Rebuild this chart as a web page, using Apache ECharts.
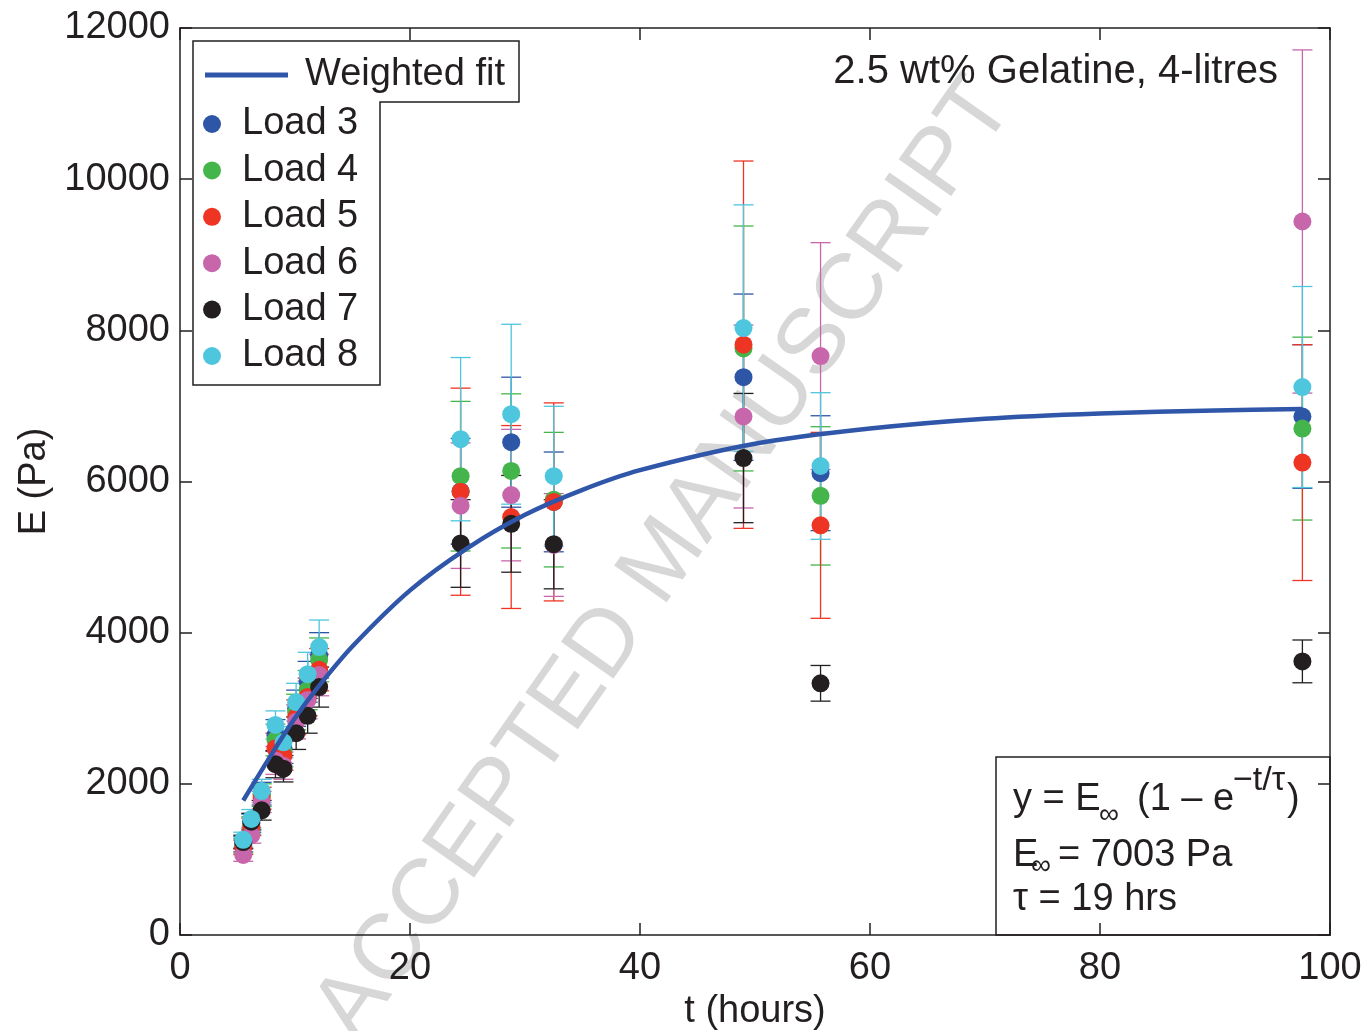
<!DOCTYPE html>
<html><head><meta charset="utf-8">
<script src="https://cdn.jsdelivr.net/npm/echarts@6/dist/echarts.min.js"></script>
<style>html,body{margin:0;padding:0;background:#fff}#c{width:1367px;height:1031px}</style>
</head><body><div id="c"></div>
<script>
// ---- data ----
const times = [5.5, 6.2, 7.1, 8.3, 9.0, 10.1, 11.1, 12.1, 24.4, 28.8, 32.5, 49.0, 55.7, 97.6];

const load3    = [1200, 1480, 1870, 2640, 2470, 3000, 3350, 3700, 5870, 6520, 5730, 7380, 6110, 6860];
const load3Err = [100, 120, 150, 210, 200, 240, 270, 300, 700, 860, 660, 1100, 760, 950];

const load4    = [1180, 1450, 1850, 2580, 2420, 2950, 3240, 3640, 6070, 6140, 5760, 7760, 5810, 6700];
const load4Err = [95, 115, 150, 210, 195, 235, 260, 290, 990, 1020, 890, 1620, 915, 1210];

const load5    = [1160, 1430, 1810, 2470, 2370, 2880, 3150, 3510, 5865, 5530, 5730, 7810, 5420, 6250];
const load5Err = [95, 115, 145, 200, 190, 230, 250, 280, 1370, 1210, 1310, 2430, 1230, 1560];

const load6    = [1060, 1320, 1760, 2310, 2240, 2820, 3110, 3440, 5680, 5820, 5160, 6860, 7660, 9440];
const load6Err = [85, 105, 140, 185, 180, 225, 250, 275, 830, 870, 680, 1210, 1500, 2270];

const load7    = [1230, 1500, 1650, 2260, 2200, 2670, 2900, 3280, 5180, 5440, 5170, 6310, 3330, 3620];
const load7Err = [90, 110, 130, 180, 175, 215, 230, 265, 580, 640, 590, 855, 236, 283];

const load8    = [1260, 1535, 1905, 2780, 2550, 3080, 3450, 3810, 6560, 6890, 6070, 8030, 6205, 7250];
const load8Err = [100, 125, 155, 185, 205, 250, 290, 357, 1080, 1190, 925, 1630, 970, 1330];

const fitT = [5.5, 8, 10, 12, 15, 20, 25, 30, 35, 40, 50, 60, 70, 80, 90, 97.6];
const fitE = [1780, 2400, 2870, 3280, 3820, 4560, 5120, 5560, 5890, 6150, 6500, 6700, 6830, 6900, 6940, 6960];

const xTicks = [0, 20, 40, 60, 80, 100];
const yTicks = [0, 2000, 4000, 6000, 8000, 10000, 12000];

const loadNames = ['Load 3', 'Load 4', 'Load 5', 'Load 6', 'Load 7', 'Load 8'];
const loadColors = ['#2e56a6', '#44b54a', '#ee3524', '#c766ab', '#231f20', '#4ec6dd'];
const loadVals = [load3, load4, load5, load6, load7, load8];
const loadErrs = [load3Err, load4Err, load5Err, load6Err, load7Err, load8Err];

// ---- chart ----
const FONT = '"Liberation Sans", Arial, Helvetica, sans-serif';
const INK = '#231f20';
const chart = echarts.init(document.getElementById('c'), null, {renderer: 'canvas'});

function errRender(color) {
  return function (params, api) {
    const t = api.value(0), v = api.value(1), e = api.value(2);
    const p1 = api.coord([t, v + e]);
    const p2 = api.coord([t, v - e]);
    const hw = 10;
    const st = {stroke: color, lineWidth: 1.3};
    return {type: 'group', children: [
      {type: 'line', shape: {x1: p1[0], y1: p1[1], x2: p2[0], y2: p2[1]}, style: st},
      {type: 'line', shape: {x1: p1[0] - hw, y1: p1[1], x2: p1[0] + hw, y2: p1[1]}, style: st},
      {type: 'line', shape: {x1: p2[0] - hw, y1: p2[1], x2: p2[0] + hw, y2: p2[1]}, style: st}
    ]};
  };
}

const series = [];
loadNames.forEach((name, k) => {
  series.push({
    name: name + ' error', type: 'custom',
    renderItem: errRender(loadColors[k]),
    data: times.map((t, i) => [t, loadVals[k][i], loadErrs[k][i]]),
    encode: {x: 0, y: 1}, silent: true, z: 2
  });
  series.push({
    name: name, type: 'scatter', symbol: 'circle', symbolSize: 18,
    itemStyle: {color: loadColors[k], opacity: 1},
    data: times.map((t, i) => [t, loadVals[k][i]]), z: 2
  });
});
series.push({
  name: 'Weighted fit', type: 'line', smooth: 0.3, symbol: 'none', showSymbol: false,
  lineStyle: {color: '#2f56a8', width: 4.5},
  itemStyle: {color: '#2f56a8'},
  data: fitT.map((t, i) => [t, fitE[i]]), z: 3
});

const axisLineStyle = {color: INK, width: 1.5};
function mkAxis(extra) {
  return Object.assign({
    type: 'value',
    axisLine: {show: true, onZero: false, lineStyle: axisLineStyle},
    axisTick: {show: true, inside: true, length: 12, lineStyle: axisLineStyle},
    splitLine: {show: false}
  }, extra);
}

function txt(x, y, text, size, extra) {
  return Object.assign({
    type: 'text', x: x, y: y, z: 10,
    style: {text: text, fill: INK, fontSize: size, fontFamily: FONT,
      align: 'left', textAlign: 'left', verticalAlign: 'middle', textVerticalAlign: 'middle'}
  }, extra || {});
}

const plain = v => String(v);

const option = {
  animation: false,
  backgroundColor: '#fff',
  grid: {left: 180, right: 37, top: 28, bottom: 96, containLabel: false, outerBoundsMode: 'none'},
  xAxis: [
    mkAxis({min: xTicks[0], max: xTicks[xTicks.length - 1], interval: 20, position: 'bottom',
      axisLabel: {fontSize: 38, color: INK, fontFamily: FONT, margin: 15, formatter: plain},
      name: 't (hours)', nameLocation: 'middle', nameGap: 53,
      nameTextStyle: {fontSize: 38, color: INK, fontFamily: FONT}}),
    mkAxis({min: xTicks[0], max: xTicks[xTicks.length - 1], interval: 20, position: 'top',
      axisLabel: {show: false}})
  ],
  yAxis: [
    mkAxis({min: yTicks[0], max: yTicks[yTicks.length - 1], interval: 2000, position: 'left',
      axisLabel: {fontSize: 38, color: INK, fontFamily: FONT, margin: 10, formatter: plain},
      name: 'E (Pa)', nameLocation: 'middle', nameGap: 121,
      nameTextStyle: {fontSize: 38, color: INK, fontFamily: FONT}}),
    mkAxis({min: yTicks[0], max: yTicks[yTicks.length - 1], interval: 2000, position: 'right',
      axisLabel: {show: false}})
  ],
  legend: [
    {data: [{name: 'Weighted fit', icon: 'rect'}], left: 200, top: 51, orient: 'vertical', selectedMode: false,
      itemWidth: 83, itemHeight: 5, z: 6,
      textStyle: {fontSize: 38, color: INK, fontFamily: FONT, lineHeight: 38, padding: [0, 0, 0, 12]}},
    {data: loadNames, left: 198, top: 100, orient: 'vertical', selectedMode: false,
      icon: 'circle', itemWidth: 18, itemHeight: 18, itemGap: 8.4, z: 6,
      textStyle: {fontSize: 38, color: INK, fontFamily: FONT, lineHeight: 38, padding: [0, 0, 0, 16]}}
  ],
  graphic: [
    {type: 'text', x: 665, y: 560, rotation: 0.96, z: 0, silent: true,
      style: {text: 'ACCEPTED MANUSCRIPT', fill: '#d7d7d7', fontSize: 93, fontFamily: FONT,
        align: 'center', textAlign: 'center', verticalAlign: 'middle', textVerticalAlign: 'middle'}},
    {type: 'polygon', z: 5,
      shape: {points: [[193, 41], [519, 41], [519, 102], [380, 102], [380, 385], [193, 385]]},
      style: {fill: '#fff', stroke: INK, lineWidth: 1.5}},
    txt(1278, 72, '2.5 wt% Gelatine, 4-litres', 40,
      {style: {text: '2.5 wt% Gelatine, 4-litres', fill: INK, fontSize: 40, fontFamily: FONT,
        align: 'right', textAlign: 'right', verticalAlign: 'middle', textVerticalAlign: 'middle'}}),
    {type: 'rect', z: 1, shape: {x: 996, y: 757, width: 334, height: 178},
      style: {fill: 'none', stroke: INK, lineWidth: 1.5}},
    txt(1013, 800, 'y = E', 38),
    txt(1099, 815, '∞', 28),
    txt(1137, 800, '(1 – e', 38),
    txt(1233, 781, '−t/τ', 34),
    txt(1287, 800, ')', 38),
    txt(1013, 856, 'E', 38),
    txt(1031, 866, '∞', 28),
    txt(1058, 856, '= 7003 Pa', 38),
    txt(1013, 900, 'τ = 19 hrs', 38)
  ],
  series: series
};
chart.setOption(option);
</script>
</body></html>
